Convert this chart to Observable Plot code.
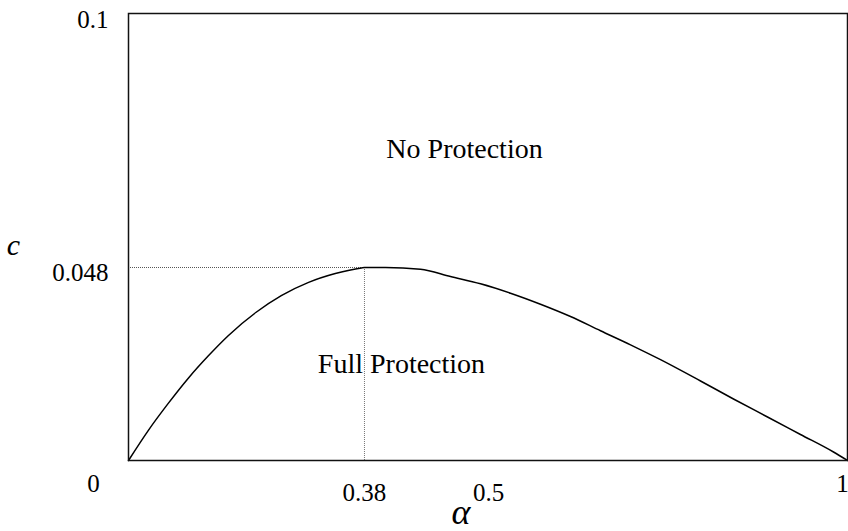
<!DOCTYPE html>
<html>
<head>
<meta charset="utf-8">
<script src="https://cdn.jsdelivr.net/npm/d3@7"></script>
<script src="https://cdn.jsdelivr.net/npm/@observablehq/plot@0.6"></script>
<style>
  html, body { margin: 0; padding: 0; background: #fff; }
  #chart svg { display: block; }
  #chart svg, #chart svg text { font-family: "Liberation Serif", "DejaVu Serif", serif !important; }
</style>
</head>
<body>
<div id="chart"></div>
<script>
// Tick values shown on the axes
const xTicks = [0.38, 0.5];
const yTicks = [0.1, 0.048];
const xEndLabel = "1";
const originLabel = "0";
const peakAlpha = 0.38;
const peakC = 0.048;

// Boundary curve c(alpha)
const alpha = [0, 0.032, 0.064, 0.097, 0.129, 0.161, 0.205, 0.246, 0.290, 0.333, 0.375, 0.38, 0.4003,
               0.4342, 0.4632, 0.4923, 0.5306, 0.5724, 0.6142, 0.656, 0.6978, 0.7396, 0.7953, 0.8412, 0.8886, 0.9345, 0.9805, 1];
const cVal  = [0, 0.0075, 0.0142, 0.0206, 0.0261, 0.0311, 0.0368, 0.0410, 0.0443, 0.0465, 0.0479, 0.048, 0.048,
               0.04758, 0.04576, 0.04395, 0.04161, 0.03887, 0.03581, 0.03226, 0.02877, 0.02507, 0.01977, 0.0153, 0.01082, 0.00647, 0.00211, 0];

const curve = alpha.map((a, i) => ({a, c: cVal[i]}));

// The original figure's axes are not evenly spaced: piecewise position mapping
const xWarp = d3.scaleLinear().domain([0, 0.38, 0.5, 1]).range([0, 0.3282, 0.5007, 1]);
const yWarp = d3.scaleLinear().domain([0, 0.048, 0.1]).range([0, 0.04318, 0.1]);

const serif = "Liberation Serif, DejaVu Serif, serif";
const fmt = (w) => (d) => String(+w.invert(d).toFixed(3));

const chart = Plot.plot({
  width: 848,
  height: 531,
  marginLeft: 128,
  marginRight: 1,
  marginTop: 13,
  marginBottom: 71,
  style: {background: "#fff", color: "#000"},
  x: {domain: [0, 1], transform: xWarp},
  y: {domain: [0, 0.1], transform: yWarp},
  marks: [
    Plot.ruleY([peakC], {x1: 0, x2: peakAlpha, stroke: "#555", strokeWidth: 1, strokeDasharray: "1,1"}),
    Plot.ruleX([peakAlpha], {y1: 0, y2: peakC, stroke: "#777", strokeWidth: 1, strokeDasharray: "1,1"}),
    Plot.line(curve, {x: "a", y: "c", stroke: "#000", strokeWidth: 1.5, curve: "monotone-x"}),
    Plot.frame({stroke: "#111", strokeWidth: 1.5}),
    Plot.axisX({ticks: xTicks.map(xWarp), tickSize: 0, tickPadding: 23, fontSize: 25, fontFamily: serif, label: null, tickFormat: fmt(xWarp)}),
    Plot.axisY({ticks: yTicks.map(yWarp), tickSize: 0, tickPadding: 20, fontSize: 25, fontFamily: serif, label: null, dy: 6, tickFormat: fmt(yWarp)}),
    Plot.text([xEndLabel], {x: 1, y: 0, dx: -5, dy: 23, fontSize: 25, fontFamily: serif, textAnchor: "middle"}),
    Plot.text([originLabel], {x: 0, y: 0, dx: -35, dy: 23, fontSize: 25, fontFamily: serif, textAnchor: "middle"}),
    Plot.text(["c"], {x: 0, y: peakC, dx: -115, dy: -22, fontSize: 30, fontFamily: serif, fontStyle: "italic"}),
    Plot.text(["α"], {frameAnchor: "bottom", dx: -27, dy: 63, fontSize: 36, fontFamily: serif, fontStyle: "italic"}),
    Plot.text(["No Protection"], {x: 0.4768, y: 0.0722, fontSize: 28, fontFamily: serif}),
    Plot.text(["Full Protection"], {x: 0.4158, y: 0.0241, fontSize: 28, fontFamily: serif})
  ]
});

document.getElementById("chart").appendChild(chart);
</script>
</body>
</html>
